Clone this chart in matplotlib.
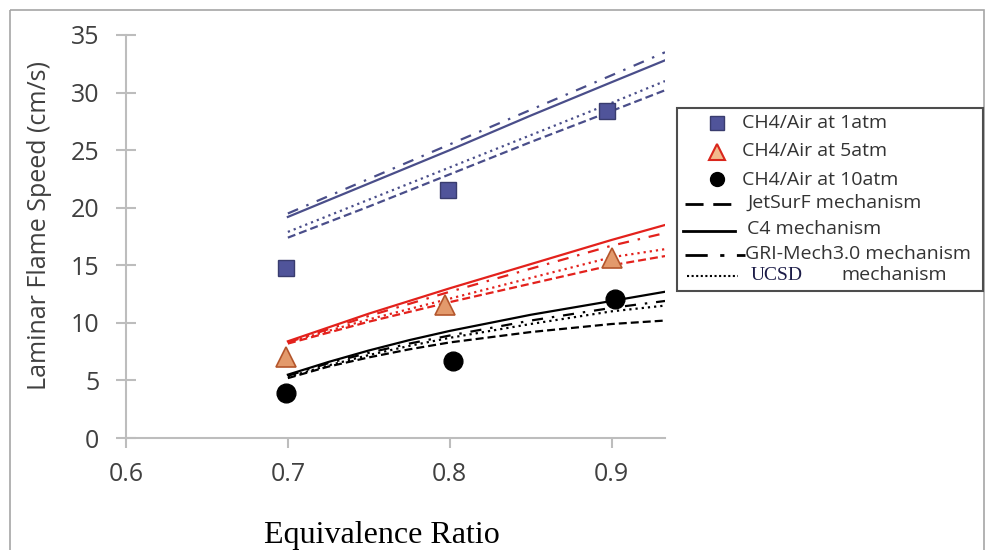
import matplotlib
matplotlib.use("Agg")
import matplotlib.pyplot as plt
from matplotlib.patches import Rectangle
from matplotlib.lines import Line2D

plt.rcParams['font.family'] = ['Open Sans', 'DejaVu Sans']

# ---------------- data ----------------
phi_1atm = [0.699, 0.799, 0.897]
sl_1atm = [14.8, 21.5, 28.4]
phi_5atm = [0.699, 0.797, 0.900]
sl_5atm = [7.0, 11.55, 15.6]
phi_10atm = [0.699, 0.802, 0.902]
sl_10atm = [3.9, 6.7, 12.1]

phi_model = [0.70, 0.75, 0.80, 0.85, 0.90, 0.933]
# 1 atm models
b_jet = [17.4, 20.1, 22.9, 25.7, 28.4, 30.2]
b_c4 = [19.2, 22.1, 25.0, 28.0, 30.9, 32.8]
b_gri = [19.5, 22.5, 25.5, 28.5, 31.5, 33.5]
b_ucsd = [17.9, 20.7, 23.5, 26.3, 29.1, 31.0]
# 5 atm models
r_jet = [8.2, 10.1, 11.8, 13.4, 15.0, 15.8]
r_c4 = [8.4, 10.8, 13.0, 15.1, 17.2, 18.5]
r_gri = [8.3, 10.6, 12.7, 14.7, 16.7, 17.8]
r_ucsd = [8.3, 10.3, 12.1, 13.9, 15.7, 16.4]
# 10 atm models (curved, read at finer steps)
phi_model_10 = [0.70, 0.725, 0.75, 0.775, 0.80, 0.85, 0.90, 0.933]
k_jet = [5.2, 6.2, 7.0, 7.7, 8.3, 9.2, 9.9, 10.2]
k_c4 = [5.5, 6.6, 7.6, 8.5, 9.3, 10.7, 11.9, 12.7]
k_gri = [5.4, 6.5, 7.4, 8.2, 8.9, 10.2, 11.3, 11.9]
k_ucsd = [5.3, 6.3, 7.2, 8.0, 8.7, 9.9, 11.0, 11.5]

xticks = [0.6, 0.7, 0.8, 0.9]
yticks = [0, 5, 10, 15, 20, 25, 30, 35]

legend_labels = ["CH4/Air at 1atm", "CH4/Air at 5atm", "CH4/Air at 10atm",
                 "JetSurF mechanism", "C4 mechanism", "GRI-Mech3.0 mechanism"]

# ---------------- styles ----------------
BLUE = '#4a4e8a'
RED = '#e3211c'
BLACK = '#000000'
DASH = (0, (3.6, 1.8))
DASHDOT = (0, (5, 4, 1.1, 4))
DOT = (0, (1.0, 1.8))
LW = 1.6

W, H = 986, 550
fig = plt.figure(figsize=(W / 100, H / 100), dpi=100)
ax = fig.add_axes([126 / W, (H - 438) / H, (665 - 126) / W, (438 - 35) / H])

for col, xs, jet, c4, gri, ucsd in [(BLUE, phi_model, b_jet, b_c4, b_gri, b_ucsd),
                                    (RED, phi_model, r_jet, r_c4, r_gri, r_ucsd),
                                    (BLACK, phi_model_10, k_jet, k_c4, k_gri, k_ucsd)]:
    ax.plot(xs, jet, color=col, lw=LW, ls=DASH)
    ax.plot(xs, c4, color=col, lw=LW, ls='-')
    ax.plot(xs, gri, color=col, lw=LW, ls=DASHDOT)
    ax.plot(xs, ucsd, color=col, lw=LW, ls=DOT)

ax.plot(phi_1atm, sl_1atm, ls='none', marker='s', ms=12, mfc='#50549a',
        mec='#393c6e', mew=1.0, zorder=5)
ax.plot(phi_5atm, sl_5atm, ls='none', marker='^', ms=15, mfc='#e39a6c',
        mec='#b4562c', mew=1.2, zorder=5)
ax.plot(phi_10atm, sl_10atm, ls='none', marker='o', ms=13.5, mfc='black',
        mec='black', zorder=5)

ax.set_xlim(0.6, 0.933)
ax.set_ylim(0, 35)
ax.set_xticks(xticks)
ax.set_xticklabels([f"{v:.1f}" for v in xticks])
ax.set_yticks(yticks)
for s in ['top', 'right']:
    ax.spines[s].set_visible(False)
for s in ['left', 'bottom']:
    ax.spines[s].set_color('#bdbdbd')
    ax.spines[s].set_linewidth(1.5)
ax.tick_params(axis='y', direction='inout', length=14.4, width=1.5,
               color='#bdbdbd', labelsize=18, labelcolor='#404040', pad=12)
ax.tick_params(axis='x', direction='out', length=7.5, width=1.5,
               color='#bdbdbd', labelsize=18, labelcolor='#404040', pad=10)
ax.patch.set_alpha(0)

# ---------------- overlay (labels, legend, frame) ----------------
ov = fig.add_axes([0, 0, 1, 1], zorder=10)
ov.set_xlim(0, W)
ov.set_ylim(H, 0)
ov.axis('off')
ov.patch.set_alpha(0)

ov.add_patch(Rectangle((9.5, 9.5), 974, 560, fill=False, ec='#a6a6a6', lw=1.2))

ov.text(40, 226, "Laminar Flame Speed (cm/s)", rotation=90, ha='center',
        va='center', fontsize=18, color='#404040')
ov.text(382, 535, "Equivalence Ratio", ha='center', va='center',
        fontsize=23, family=['Liberation Serif'], color='black')

# legend box
ov.add_patch(Rectangle((677, 108), 306, 183, fill=False, ec='#4d4d4d', lw=1.5))
fs_leg = 14
tc = '#333333'
ov.plot([717], [123], marker='s', ms=9.5, mfc='#50549a', mec='#393c6e', ls='none')
ov.text(742, 123, legend_labels[0], va='center', fontsize=fs_leg, color=tc)
ov.plot([717], [152], marker='^', ms=11, mfc='#f2b98c', mec='#d9261c', mew=1.5, ls='none')
ov.text(742, 151, legend_labels[1], va='center', fontsize=fs_leg, color=tc)
ov.plot([717], [179], marker='o', ms=10, mfc='black', mec='black', ls='none')
ov.text(742, 180, legend_labels[2], va='center', fontsize=fs_leg, color=tc)

ov.add_line(Line2D([685, 740], [204, 204], color='black', lw=2, ls=(0, (6.5, 3.5))))
ov.text(748, 203, legend_labels[3], va='center', fontsize=fs_leg, color=tc)
ov.add_line(Line2D([683, 735], [231, 231], color='black', lw=2, ls='-'))
ov.text(747, 229, legend_labels[4], va='center', fontsize=fs_leg, color=tc)
ov.add_line(Line2D([685, 745], [255, 255], color='black', lw=2, ls=(0, (8, 4.5, 1.5, 4.5))))
ov.text(745, 254, legend_labels[5], va='center', fontsize=fs_leg, color=tc)
ov.add_line(Line2D([687, 738], [276, 276], color='black', lw=1.5, ls=(0, (1, 1.2))))
ov.text(751, 276, "UCSD", va='center', fontsize=14, family=['Liberation Serif'],
        color='#1c1c48')
ov.text(841, 275, "mechanism", va='center', fontsize=fs_leg, color=tc)

fig.savefig("out.png", dpi=100)
